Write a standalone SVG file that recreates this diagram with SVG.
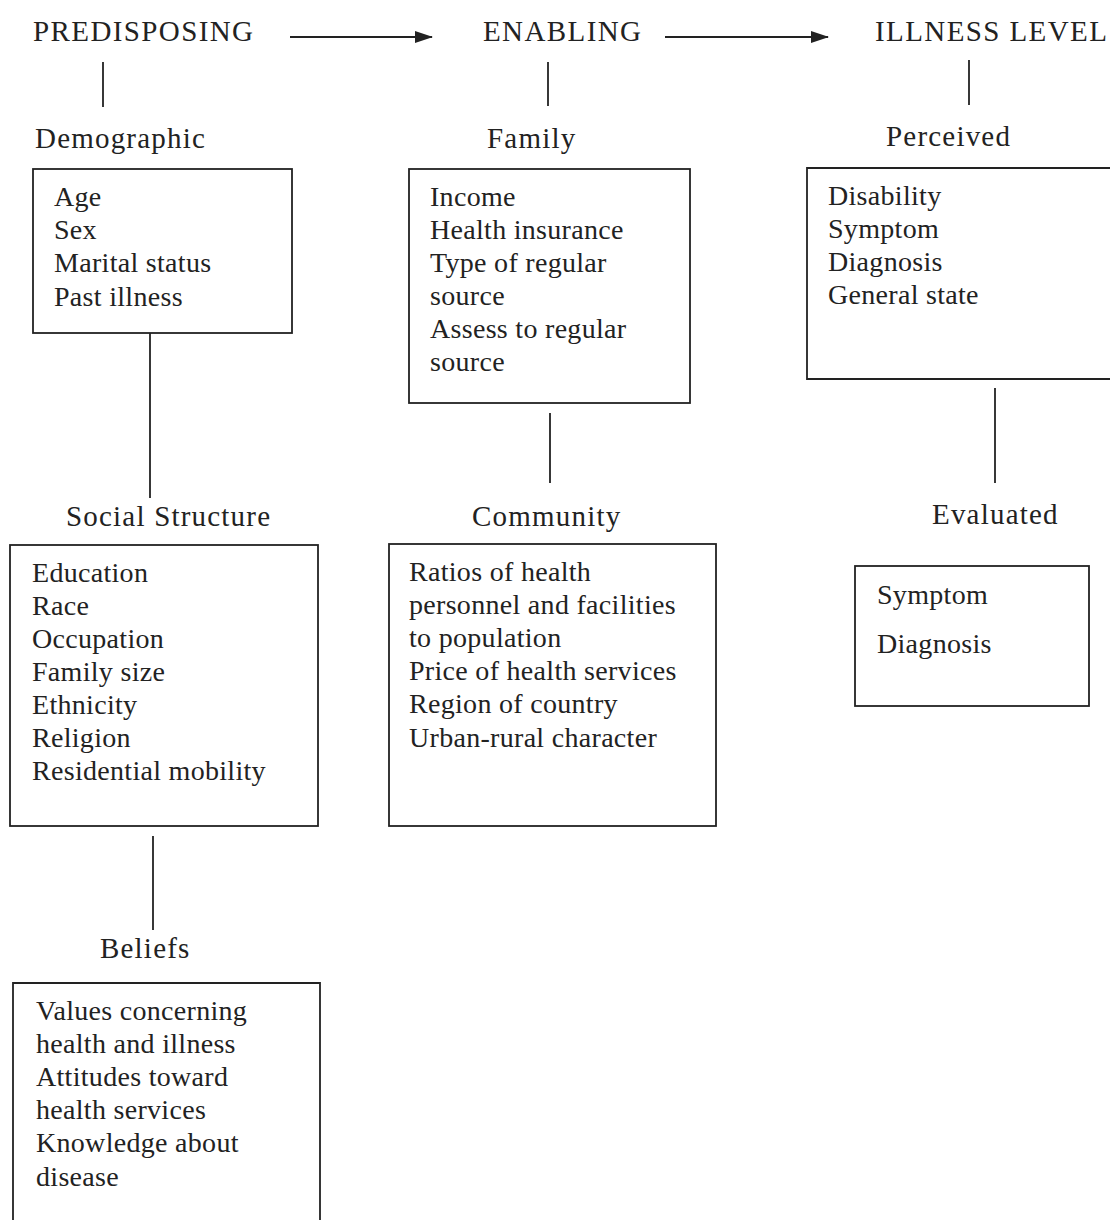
<svg xmlns="http://www.w3.org/2000/svg" width="1110" height="1220" viewBox="0 0 1110 1220">
<defs>
<marker id="ah" markerWidth="18" markerHeight="14" refX="17" refY="7" orient="auto" markerUnits="userSpaceOnUse">
<path d="M0,1 L18,7 L0,13 Z" fill="#222"/>
</marker>
<style>
text{font-family:"Liberation Serif","Times New Roman",serif;fill:#222;}
.h{font-size:29px;letter-spacing:1.4px;}
.s{font-size:29px;letter-spacing:1.2px;}
.t{font-size:28px;letter-spacing:0.3px;}
.box{fill:none;stroke:#222;stroke-width:1.8;}
.ln{stroke:#222;stroke-width:1.8;fill:none;}
</style>
</defs>
<rect width="1110" height="1220" fill="#fff"/>
<g id="connectors">
<line class="ln" x1="290" y1="37" x2="432" y2="37" marker-end="url(#ah)"/>
<line class="ln" x1="665" y1="37" x2="828" y2="37" marker-end="url(#ah)"/>
<line class="ln" x1="103" y1="62" x2="103" y2="107"/>
<line class="ln" x1="548" y1="62" x2="548" y2="106"/>
<line class="ln" x1="969" y1="60" x2="969" y2="105"/>
<line class="ln" x1="150" y1="333" x2="150" y2="498"/>
<line class="ln" x1="153" y1="836" x2="153" y2="930"/>
<line class="ln" x1="550" y1="413" x2="550" y2="483"/>
<line class="ln" x1="995" y1="388" x2="995" y2="483"/>
</g>
<g id="predisposing"><text class="h" x="33" y="41">PREDISPOSING</text></g>
<g id="enabling"><text class="h" x="483" y="41">ENABLING</text></g>
<g id="illness-level"><text class="h" x="875" y="41">ILLNESS LEVEL</text></g>
<g id="demographic">
<text class="s" x="35" y="148">Demographic</text>
<rect class="box" x="33" y="169" width="259" height="164"/>
<text class="t" x="54" y="206">Age</text>
<text class="t" x="54" y="239">Sex</text>
<text class="t" x="54" y="272">Marital status</text>
<text class="t" x="54" y="306">Past illness</text>
</g>
<g id="social-structure">
<text class="s" x="66" y="526">Social Structure</text>
<rect class="box" x="10" y="545" width="308" height="281"/>
<text class="t" x="32" y="582">Education</text>
<text class="t" x="32" y="615">Race</text>
<text class="t" x="32" y="648">Occupation</text>
<text class="t" x="32" y="681">Family size</text>
<text class="t" x="32" y="714">Ethnicity</text>
<text class="t" x="32" y="747">Religion</text>
<text class="t" x="32" y="780">Residential mobility</text>
</g>
<g id="beliefs">
<text class="s" x="100" y="958">Beliefs</text>
<path class="box" d="M13,1222 L13,983 L320,983 L320,1222"/>
<text class="t" x="36" y="1020">Values concerning</text>
<text class="t" x="36" y="1053">health and illness</text>
<text class="t" x="36" y="1086">Attitudes toward</text>
<text class="t" x="36" y="1119">health services</text>
<text class="t" x="36" y="1152">Knowledge about</text>
<text class="t" x="36" y="1186">disease</text>
</g>
<g id="family">
<text class="s" x="487" y="148">Family</text>
<rect class="box" x="409" y="169" width="281" height="234"/>
<text class="t" x="430" y="206">Income</text>
<text class="t" x="430" y="239">Health insurance</text>
<text class="t" x="430" y="272">Type of regular</text>
<text class="t" x="430" y="305">source</text>
<text class="t" x="430" y="338">Assess to regular</text>
<text class="t" x="430" y="371">source</text>
</g>
<g id="community">
<text class="s" x="472" y="526">Community</text>
<rect class="box" x="389" y="544" width="327" height="282"/>
<text class="t" x="409" y="581">Ratios of health</text>
<text class="t" x="409" y="614">personnel and facilities</text>
<text class="t" x="409" y="647">to population</text>
<text class="t" x="409" y="680">Price of health services</text>
<text class="t" x="409" y="713">Region of country</text>
<text class="t" x="409" y="747">Urban-rural character</text>
</g>
<g id="perceived">
<text class="s" x="886" y="146">Perceived</text>
<path class="box" d="M1112,168 L807,168 L807,379 L1112,379"/>
<text class="t" x="828" y="205">Disability</text>
<text class="t" x="828" y="238">Symptom</text>
<text class="t" x="828" y="271">Diagnosis</text>
<text class="t" x="828" y="304">General state</text>
</g>
<g id="evaluated">
<text class="s" x="932" y="524">Evaluated</text>
<rect class="box" x="855" y="566" width="234" height="140"/>
<text class="t" x="877" y="604">Symptom</text>
<text class="t" x="877" y="653">Diagnosis</text>
</g>
</svg>
